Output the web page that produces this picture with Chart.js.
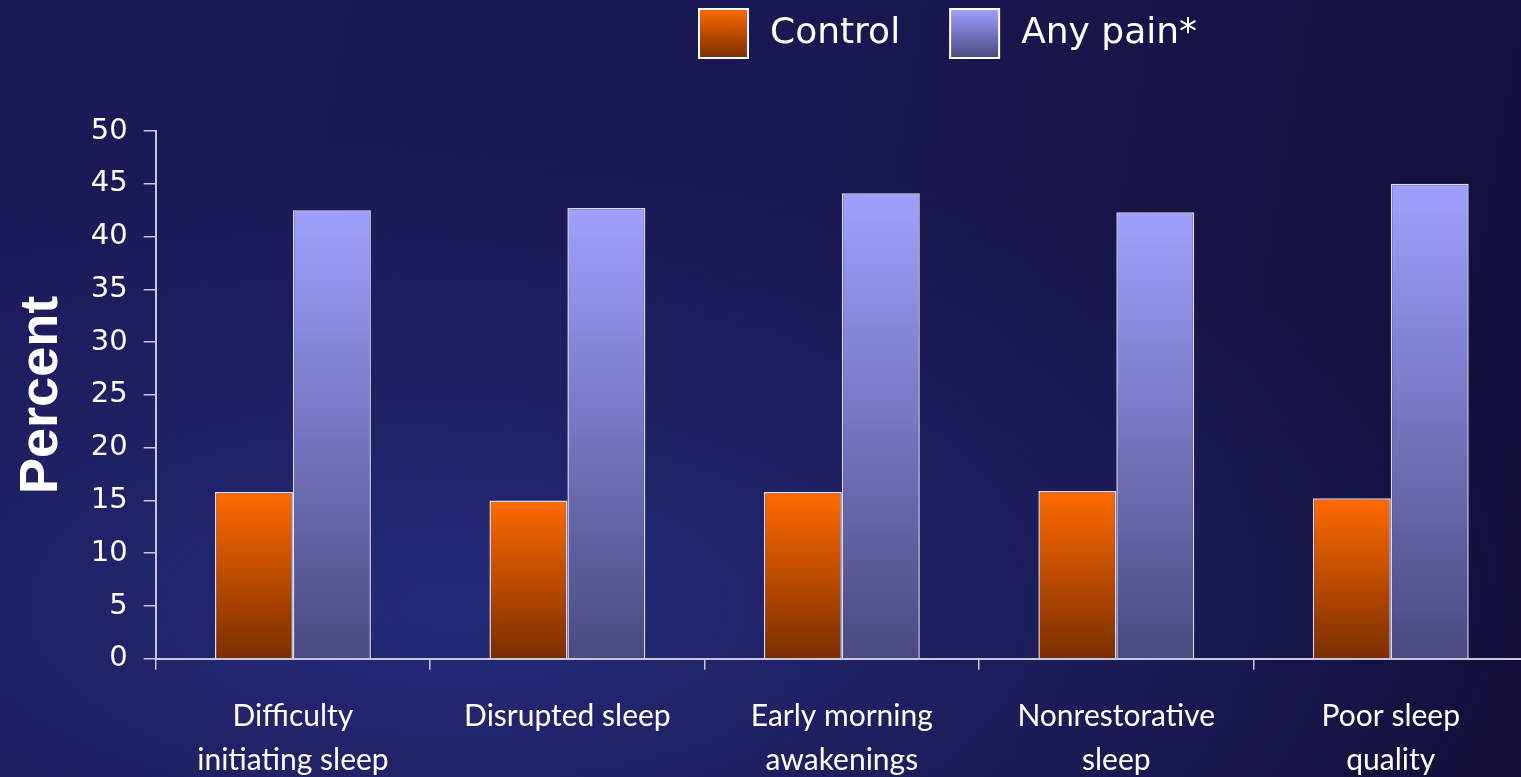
<!DOCTYPE html>
<html>
<head>
<meta charset="utf-8">
<script src="https://cdn.jsdelivr.net/npm/chart.js@4.4.0/dist/chart.umd.min.js"></script>
<style>
  html, body { margin: 0; padding: 0; overflow: hidden; }
  body {
    width: 1521px; height: 777px;
    background:
      radial-gradient(ellipse 70% 60% at 30% 78%, #252b7a 0%, rgba(34,38,110,0.6) 45%, rgba(20,17,63,0) 100%),
      linear-gradient(100deg, #1b1a58 0%, #1a1852 50%, #120f3a 100%);
  }
  #wrap { position: absolute; left: 0; top: 0; width: 1528px; height: 777px; }
</style>
</head>
<body>
<div id="wrap"><canvas id="sleepChart"></canvas></div>
<script>
// Chart data
const categories = [
    ["Difficulty", "initiating sleep"],
    ["Disrupted sleep"],
    ["Early morning", "awakenings"],
    ["Nonrestorative", "sleep"],
    ["Poor sleep", "quality"]
];
const controlValues = [15.8, 15.0, 15.8, 15.9, 15.2];
const painValues = [42.5, 42.7, 44.1, 42.3, 45.0];
const seriesLabels = ["Control", "Any pain*"];
const yTicks = [0, 50, 5]; // min, max, step

// Vertical gradient for each bar, from its top down to zero
function barGradient(topColor, bottomColor) {
    return (ctx) => {
        const chart = ctx.chart;
        if (!chart.chartArea || ctx.type !== "data") return topColor;
        const y = chart.scales.y;
        const g = chart.ctx.createLinearGradient(0, y.getPixelForValue(ctx.raw), 0, y.getPixelForValue(0));
        g.addColorStop(0, topColor);
        g.addColorStop(1, bottomColor);
        return g;
    };
}

const colors = [
    ["#ff6a00", "#7a2e00"],
    ["#a0a0ff", "#4a4a80"]
];

// Legend drawn above the plot
const topLegend = {
    id: "topLegend",
    afterDraw(chart) {
        const c = chart.ctx;
        c.save();
        c.font = "36px 'DejaVu Sans'";
        c.textBaseline = "middle";
        let x = 699;
        const y = 9, size = 49;
        chart.data.datasets.forEach((ds, i) => {
            const g = c.createLinearGradient(0, y, 0, y + size);
            g.addColorStop(0, colors[i][0]);
            g.addColorStop(1, colors[i][1]);
            c.fillStyle = g;
            c.fillRect(x, y, size, size);
            c.strokeStyle = "#ffffff";
            c.lineWidth = 2;
            c.strokeRect(x, y, size, size);
            c.fillStyle = "#ffffff";
            c.fillText(ds.label, x + size + 22, y + size / 2);
            x += size + 22 + c.measureText(ds.label).width + 50;
        });
        c.restore();
    }
};

new Chart(document.getElementById("sleepChart"), {
    type: "bar",
    data: {
        labels: categories,
        datasets: [
            {
                label: seriesLabels[0],
                data: controlValues,
                backgroundColor: barGradient(colors[0][0], colors[0][1]),
                borderColor: "#dcdcf0",
                borderWidth: 1.5
            },
            {
                label: seriesLabels[1],
                data: painValues,
                backgroundColor: barGradient(colors[1][0], colors[1][1]),
                borderColor: "#dcdcf0",
                borderWidth: 1.5
            }
        ]
    },
    options: {
        responsive: true,
        maintainAspectRatio: false,
        animation: false,
        layout: { padding: { top: 131, left: 4, right: 0, bottom: -29 } },
        datasets: { bar: { barPercentage: 1, categoryPercentage: 0.568 } },
        plugins: {
            legend: { display: false },
            tooltip: { enabled: false }
        },
        scales: {
            x: {
                border: { display: true, color: "#c8c8dc", width: 2 },
                grid: { drawOnChartArea: false, drawTicks: true, tickLength: 11, color: "#c8c8dc", lineWidth: 1.5 },
                ticks: {
                    color: "#ffffff",
                    font: { family: "Lato", size: 30, lineHeight: 1.47 },
                    padding: 24,
                    maxRotation: 0,
                    autoSkip: false
                }
            },
            y: {
                min: yTicks[0],
                max: yTicks[1],
                border: { display: true, color: "#c8c8dc", width: 2 },
                grid: { drawOnChartArea: false, drawTicks: true, tickLength: 12, color: "#c8c8dc", lineWidth: 1.5 },
                ticks: {
                    stepSize: yTicks[2],
                    color: "#ffffff",
                    font: { family: "DejaVu Sans", size: 29 },
                    padding: 16
                },
                title: {
                    display: true,
                    text: "Percent",
                    color: "#ffffff",
                    font: { family: "Liberation Sans", size: 54, weight: "bold" },
                    padding: { top: 6, bottom: 0 }
                }
            }
        }
    },
    plugins: [topLegend]
});
</script>
</body>
</html>
